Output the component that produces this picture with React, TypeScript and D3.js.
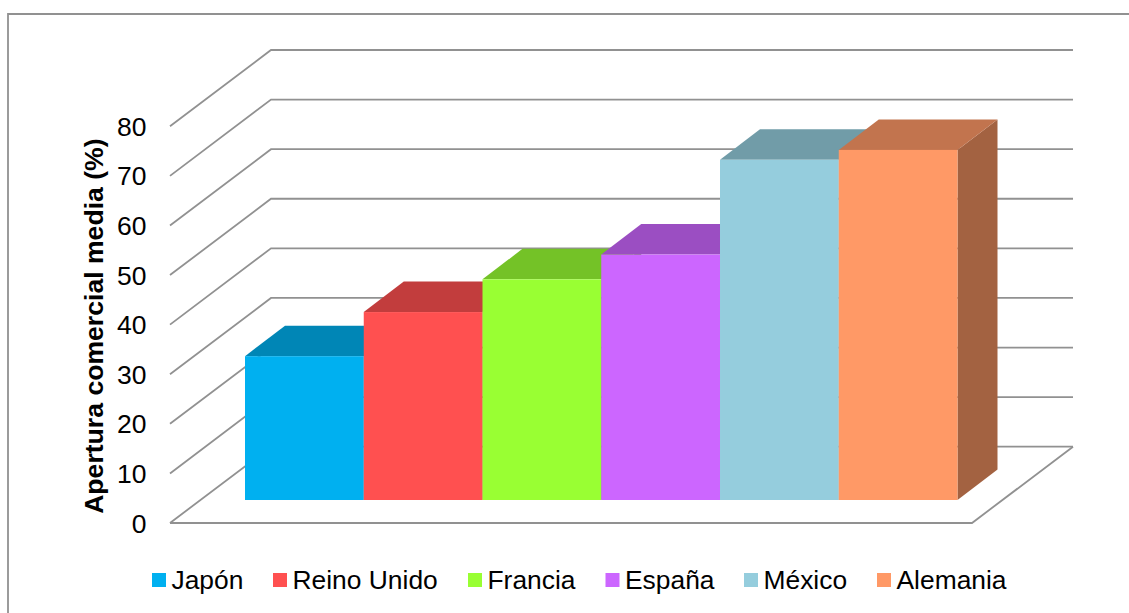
import React from "react";
import * as d3 from "d3";

// Mean trade openness per country, in percent
const countries = ["Japón", "Reino Unido", "Francia", "España", "México", "Alemania"];
const openness = [29, 37.9, 44.5, 49.5, 68.6, 70.6];
const barColors = ["#00B0F0", "#FF5050", "#99FF33", "#CC66FF", "#95CDDD", "#FF9966"];
const axisTicks = [0, 10, 20, 30, 40, 50, 60, 70, 80];
const legendSwatchX = [152, 273, 468, 605.5, 744, 877];
const axisTitle = "Apertura comercial media (%)";

const FONT = "'Liberation Sans', Arial, sans-serif";
const GRID = "#919191";

const WIDTH = 1129;
const HEIGHT = 613;

// Floor of the 3D box: front edge and the offset to the back wall
const frontLeft = 170;
const frontRight = 972;
const wallDx = 101;
const wallDy = -76.3;

// Bars stand part way into the floor and have their own depth
const barBaseY = 500;
const barDx = 40;
const barDy = -30.5;

const yFront = d3.scaleLinear().domain([0, 80]).range([523, 126.3]);
const yBar = d3
  .scaleLinear()
  .domain([0, 80])
  .range([barBaseY, barBaseY - (yFront(0) - yFront(80))]);
const xBar = d3.scaleBand<string>().domain(countries).range([245, 957.5]).padding(0);

const shade = (color: string, k: number) => {
  const c = d3.rgb(color);
  return d3.rgb(c.r * k, c.g * k, c.b * k).formatHex();
};

const poly = d3.line<[number, number]>();

export default function App() {
  const last = axisTicks[axisTicks.length - 1];
  const first = axisTicks[0];
  return (
    <svg
      width={WIDTH}
      height={HEIGHT}
      viewBox={`0 0 ${WIDTH} ${HEIGHT}`}
      style={{ position: "absolute", left: 0, top: 0, background: "#fff" }}
    >
      {/* Chart frame: the right and bottom edges run off the page */}
      <path d={`M8,${HEIGHT + 2}V14H${WIDTH + 2}`} fill="none" stroke={GRID} strokeWidth={1.8} />

      {/* Side wall ticks and back wall gridlines */}
      {axisTicks.map((t) => {
        const y = yFront(t);
        return (
          <path
            key={t}
            d={poly([
              [frontLeft, y],
              [frontLeft + wallDx, y + wallDy],
              [frontRight + wallDx, y + wallDy],
            ])!}
            fill="none"
            stroke={GRID}
            strokeWidth={1.8}
          />
        );
      })}
      {/* Front and right edges of the floor */}
      <path
        d={poly([
          [frontLeft, yFront(first)],
          [frontRight, yFront(first)],
          [frontRight + wallDx, yFront(first) + wallDy],
        ])!}
        fill="none"
        stroke={GRID}
        strokeWidth={1.8}
      />

      {/* Value axis labels */}
      {axisTicks.map((t) => (
        <text
          key={t}
          x={146.5}
          y={yFront(t) + 9.5}
          textAnchor="end"
          fontFamily={FONT}
          fontSize={26.5}
          fill="#000"
        >
          {t}
        </text>
      ))}
      <text
        transform={`translate(103,${(yFront(first) + yFront(last)) / 2 + 1.5}) rotate(-90)`}
        textAnchor="middle"
        fontFamily={FONT}
        fontSize={26.6}
        fontWeight="bold"
        fill="#000"
      >
        {axisTitle}
      </text>

      {/* Bars, left to right so each one covers the depth of the previous */}
      {countries.map((name, i) => {
        const x0 = xBar(name)!;
        const x1 = x0 + xBar.bandwidth();
        const top = yBar(openness[i]);
        const color = barColors[i];
        return (
          <g key={name}>
            <path
              d={poly([
                [x1, top],
                [x1 + barDx, top + barDy],
                [x1 + barDx, barBaseY + barDy],
                [x1, barBaseY],
              ])! + "Z"}
              fill={shade(color, 0.64)}
            />
            <path
              d={poly([
                [x0, top],
                [x0 + barDx, top + barDy],
                [x1 + barDx, top + barDy],
                [x1, top],
              ])! + "Z"}
              fill={shade(color, 0.76)}
            />
            <rect x={x0} y={top} width={x1 - x0} height={barBaseY - top} fill={color} />
          </g>
        );
      })}

      {/* Legend */}
      {countries.map((name, i) => (
        <g key={name}>
          <rect x={legendSwatchX[i]} y={573} width={14} height={14} fill={barColors[i]} />
          <text x={legendSwatchX[i] + 19.5} y={588.7} fontFamily={FONT} fontSize={26.4} fill="#000">
            {name}
          </text>
        </g>
      ))}
    </svg>
  );
}
